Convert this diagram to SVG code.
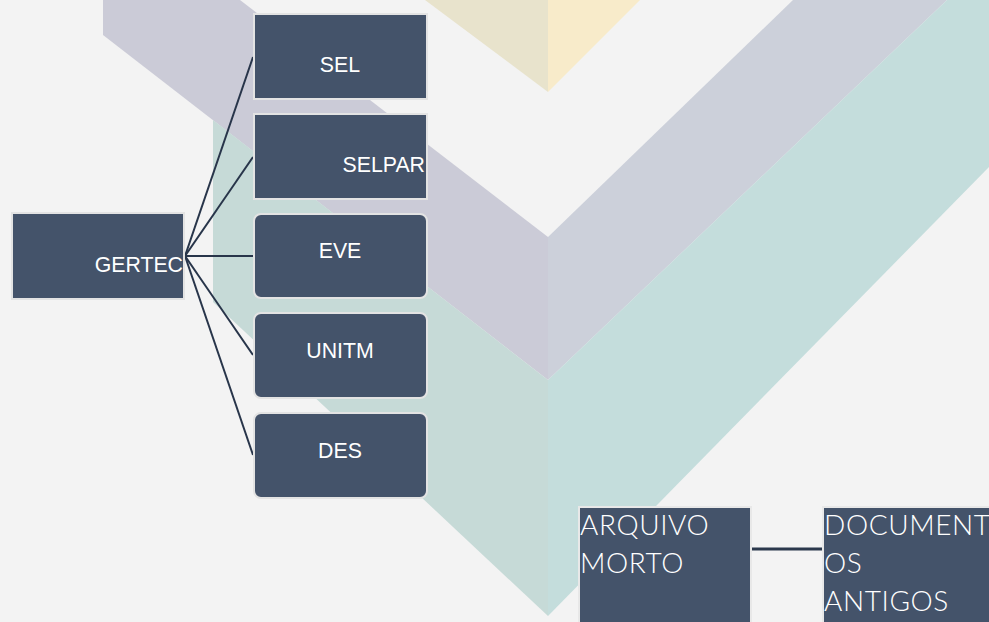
<svg xmlns="http://www.w3.org/2000/svg" width="989" height="622" viewBox="0 0 989 622">
<style>
.box{fill:#44536a;stroke:#e3e3e3;stroke-width:2}
.t{font-family:"Liberation Sans",Arial,sans-serif;font-size:21.3px;fill:#ffffff}
.r{font-family:Lato,"Open Sans",sans-serif;font-weight:300;font-size:28px;letter-spacing:0.6px;fill:#ffffff}
.c{stroke:#28354a;stroke-width:2;fill:none}
</style>
<rect width="989" height="622" fill="#f3f3f3"/>
<g id="background">
<polygon points="425,0 548,0 548,92" fill="#e8e3cc"/>
<polygon points="548,0 640,0 548,92" fill="#f8ebca"/>
<polygon points="103,0 240,0 548,237 548,380 103,35" fill="#cbcbd7"/>
<polygon points="548,237 793,0 947,0 548,380" fill="#ccd0da"/>
<polygon points="213,120 548,380 548,616 213,302" fill="#c6dad7"/>
<polygon points="548,380 947,0 989,0 989,167 548,616" fill="#c4dddc"/>
</g>
<g id="connectors">
<line class="c" x1="185" y1="256" x2="253" y2="57"/>
<line class="c" x1="185" y1="256" x2="253" y2="157"/>
<line class="c" x1="185" y1="256" x2="253" y2="256"/>
<line class="c" x1="185" y1="256" x2="253" y2="355"/>
<line class="c" x1="185" y1="256" x2="253" y2="455"/>
<line x1="751" y1="549" x2="823" y2="549" stroke="#2b384c" stroke-width="3"/>
</g>
<g id="GERTEC">
<rect class="box" x="12" y="213" width="172" height="86"/>
<text class="t" x="183" y="272" text-anchor="end">GERTEC</text>
</g>
<g id="SEL">
<rect class="box" x="254" y="14" width="173" height="85"/>
<text class="t" x="340" y="72" text-anchor="middle">SEL</text>
</g>
<g id="SELPAR">
<rect class="box" x="254" y="114" width="173" height="85"/>
<text class="t" x="425" y="172" text-anchor="end">SELPAR</text>
</g>
<g id="EVE">
<rect class="box" x="254" y="214" width="173" height="84" rx="7"/>
<text class="t" x="340" y="258" text-anchor="middle">EVE</text>
</g>
<g id="UNITM">
<rect class="box" x="254" y="313" width="173" height="85" rx="7"/>
<text class="t" x="340" y="358" text-anchor="middle">UNITM</text>
</g>
<g id="DES">
<rect class="box" x="254" y="413" width="173" height="85" rx="7"/>
<text class="t" x="340" y="458" text-anchor="middle">DES</text>
</g>
<g id="ARQUIVO">
<rect x="579" y="507" width="172" height="120" fill="#44536a" stroke="#e8e8e8" stroke-width="2"/>
<text class="r" x="580" y="535">ARQUIVO</text>
<text class="r" x="580" y="573">MORTO</text>
</g>
<g id="DOCUMENTOS">
<rect x="823" y="507" width="172" height="120" fill="#44536a" stroke="#e8e8e8" stroke-width="2"/>
<text class="r" x="824" y="535">DOCUMENT</text>
<text class="r" x="824" y="573">OS</text>
<text class="r" x="824" y="611">ANTIGOS</text>
</g>
</svg>
